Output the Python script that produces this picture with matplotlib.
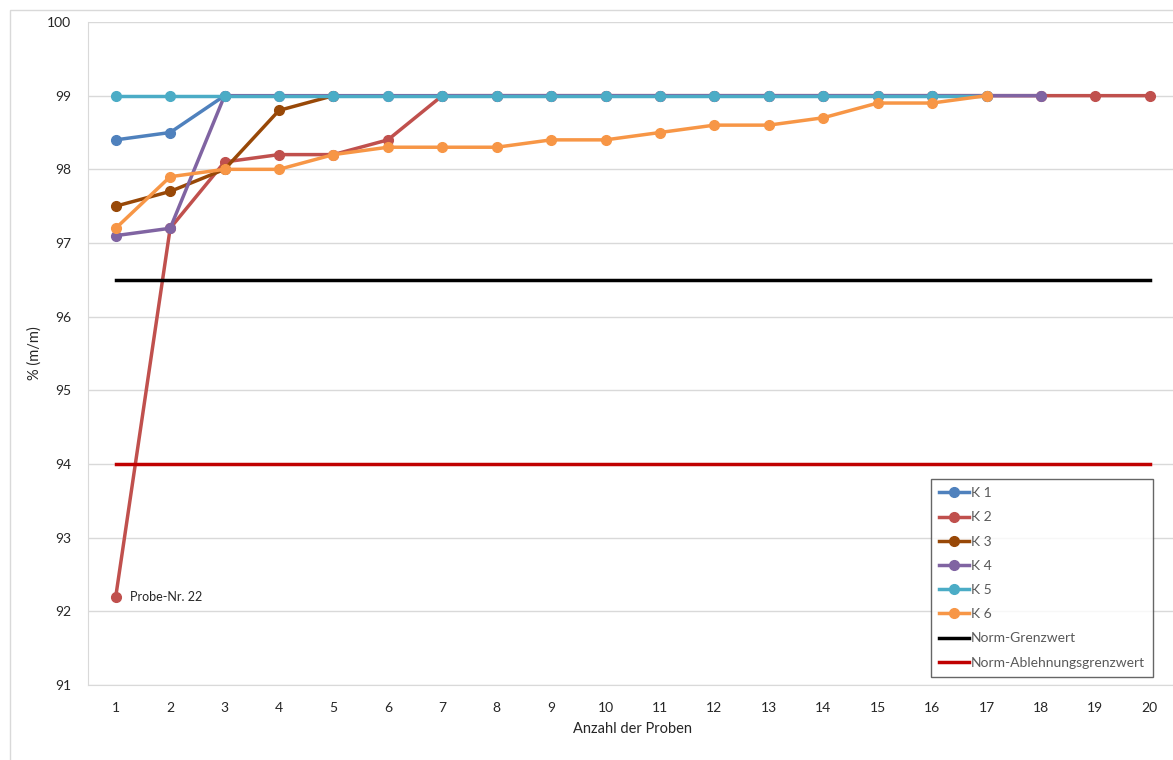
import numpy as np
from matplotlib import pyplot as plt
from matplotlib.patches import Rectangle

plt.rcParams['font.family'] = ['Lato', 'DejaVu Sans']

k1 = [98.4, 98.5, 99.0]
k2 = [92.2, 97.2, 98.1, 98.2, 98.2, 98.4, 99.0, 99.0, 99.0, 99.0,
      99.0, 99.0, 99.0, 99.0, 99.0, 99.0, 99.0, 99.0, 99.0, 99.0]
k3 = [97.5, 97.7, 98.0, 98.8, 99.0]
k4 = [97.1, 97.2, 99.0, 99.0, 99.0, 99.0, 99.0, 99.0, 99.0, 99.0,
      99.0, 99.0, 99.0, 99.0, 99.0, 99.0, 99.0, 99.0]
k5 = [99.0] * 17
k6 = [97.2, 97.9, 98.0, 98.0, 98.2, 98.3, 98.3, 98.3, 98.4, 98.4,
      98.5, 98.6, 98.6, 98.7, 98.9, 98.9, 99.0]
norm_grenz = 96.5
norm_ablehn = 94.0
n_proben = 20

series = [("K 1", k1, "#4F81BD"), ("K 2", k2, "#C0504D"), ("K 3", k3, "#984807"),
          ("K 4", k4, "#8064A2"), ("K 5", k5, "#4BACC6"), ("K 6", k6, "#F79646")]

fig = plt.figure(figsize=(11.73, 7.6), dpi=100)
ax = fig.add_axes([88/1173, 75/760, 1089/1173, 663/760])

fig.patches.append(Rectangle((10/1173, -0.01), 1.02, 1 - 10/760 + 0.01,
                             transform=fig.transFigure, fill=False,
                             edgecolor="#d9d9d9", lw=1))

for name, vals, col in series:
    x = np.arange(1, len(vals) + 1)
    ax.plot(x, vals, '-o', color=col, lw=2.5, ms=7, label=name)

xx = np.arange(1, n_proben + 1)
ax.plot(xx, [norm_grenz] * n_proben, color="black", lw=2.5, label="Norm-Grenzwert")
ax.plot(xx, [norm_ablehn] * n_proben, color="#C00000", lw=2.5, label="Norm-Ablehnungsgrenzwert")

ax.annotate("Probe-Nr. 22", (1, k2[0]), xytext=(10, 0), textcoords="offset points",
            fontsize=9, color="#262626", va="center")

ax.set_xlim(0.49, 20.5)
ax.set_ylim(91, 100)
ax.set_xticks(xx)
ax.set_yticks(np.arange(91, 101))
ax.tick_params(length=0, labelsize=10, colors="#262626", pad=12)
ax.grid(axis='y', color="#d9d9d9", lw=1)
ax.set_axisbelow(True)
for s in ["top", "right"]:
    ax.spines[s].set_visible(False)
for s in ["left", "bottom"]:
    ax.spines[s].set_color("#d9d9d9")

ax.set_xlabel("Anzahl der Proben", fontsize=10.5, color="#262626", labelpad=6)
ax.set_ylabel("% (m/m)", fontsize=10.5, color="#262626", labelpad=4)

leg = ax.legend(loc="lower right", bbox_to_anchor=(0.978, 0.012), fontsize=10,
                frameon=True, fancybox=False, edgecolor="#404040",
                handlelength=2.1, labelspacing=0.88, borderpad=0.6,
                handletextpad=0.15, borderaxespad=0)
leg.get_frame().set_linewidth(1)
for t in leg.get_texts():
    t.set_color("#595959")

plt.savefig("out.png")
